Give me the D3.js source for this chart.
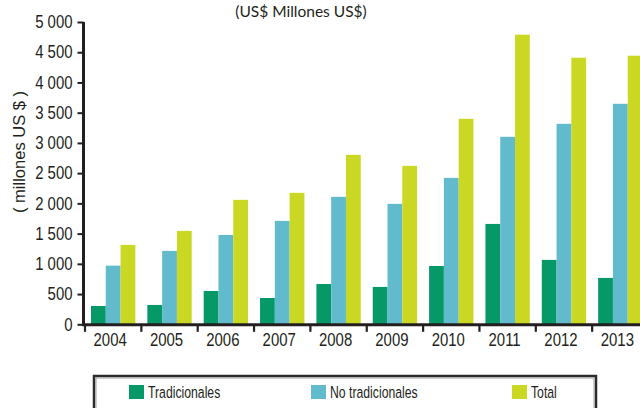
<!DOCTYPE html>
<html>
<head>
<meta charset="utf-8">
<script src="https://cdn.jsdelivr.net/npm/d3@7"></script>
<style>
  html, body { margin: 0; padding: 0; background: #fff; }
  svg { display: block; }
</style>
</head>
<body>
<svg id="chart" width="640" height="408"></svg>
<script>
const years = ["2004","2005","2006","2007","2008","2009","2010","2011","2012","2013"];
const tradicionales = [303, 320, 551, 435, 667, 618, 965, 1660, 1065, 767];
const noTradicionales = [970, 1214, 1478, 1710, 2108, 1992, 2422, 3101, 3316, 3647];
const total = [1313, 1545, 2058, 2174, 2803, 2621, 3399, 4790, 4409, 4442];
const seriesNames = ["Tradicionales", "No tradicionales", "Total"];
const seriesColors = ["#079868", "#62bbcc", "#cbd823"];
const yTicks = [0, 500, 1000, 1500, 2000, 2500, 3000, 3500, 4000, 4500, 5000];
const titleText = "(US$ Millones US$)";
const yTitle = "( millones US $ )";

const seriesValues = [tradicionales, noTradicionales, total];
const sans = "'Liberation Sans', Arial, sans-serif";
const ink = "#231f20";

const svg = d3.select("#chart");

const x = d3.scaleBand().domain(years).range([85, 648.5]).padding(0);
const xs = d3.scaleBand().domain(seriesNames).range([6, x.bandwidth() - 6]).padding(0);
const y = d3.scaleLinear().domain([0, 5000]).range([324.3, 22]);

// bars
const groups = svg.append("g").selectAll("g")
  .data(years)
  .join("g")
  .attr("transform", d => `translate(${x(d)},0)`);

groups.selectAll("rect")
  .data((d, i) => seriesNames.map((s, j) => ({ s, v: seriesValues[j][i], c: seriesColors[j] })))
  .join("rect")
  .attr("x", d => xs(d.s))
  .attr("width", xs.bandwidth())
  .attr("y", d => y(d.v))
  .attr("height", d => y(0) - y(d.v))
  .attr("fill", d => d.c);

// y axis
const yAxis = d3.axisLeft(y)
  .tickValues(yTicks)
  .tickSize(6)
  .tickPadding(5)
  .tickFormat(d => d3.format(",")(d).replace(/,/g, " "));
const yg = svg.append("g").attr("transform", "translate(83.5,0)").call(yAxis);
yg.select(".domain").attr("stroke", ink).attr("stroke-width", 3).attr("d", `M0,${y(5000)}V${y(0) + 1.5}`);
yg.selectAll(".tick line").attr("stroke", ink).attr("stroke-width", 2);
yg.selectAll(".tick text")
  .attr("fill", ink)
  .attr("x", 0)
  .attr("transform", "translate(-11,0) scale(0.83,1)")
  .style("font-family", sans)
  .style("font-size", "18px");

// x axis baseline
svg.append("line")
  .attr("x1", 82).attr("x2", 640)
  .attr("y1", y(0) + 0.5).attr("y2", y(0) + 0.5)
  .attr("stroke", ink).attr("stroke-width", 3);

// x ticks at band boundaries
svg.append("g").selectAll("line")
  .data(years)
  .join("line")
  .attr("x1", d => x(d)).attr("x2", d => x(d))
  .attr("y1", y(0) + 1).attr("y2", y(0) + 7.5)
  .attr("stroke", ink).attr("stroke-width", 2.2);

// x labels
svg.append("g").selectAll("text")
  .data(years)
  .join("text")
  .attr("transform", d => `translate(${x(d) + x.bandwidth() / 2 - 3},346) scale(0.83,1)`)
  .attr("text-anchor", "middle")
  .attr("fill", ink)
  .style("font-family", sans)
  .style("font-size", "18px")
  .text(d => d);

// y title
svg.append("text")
  .attr("transform", "translate(25,152) rotate(-90)")
  .attr("text-anchor", "middle")
  .attr("fill", ink)
  .style("font-family", sans)
  .style("font-size", "16.5px")
  .text(yTitle);

// title
svg.append("text")
  .attr("x", 301)
  .attr("y", 17)
  .attr("text-anchor", "middle")
  .attr("fill", ink)
  .style("font-family", "Lato, 'Open Sans', sans-serif")
  .style("font-size", "15.5px")
  .text(titleText);

// legend
const lg = svg.append("g");
lg.append("rect")
  .attr("x", 94).attr("y", 376).attr("width", 502).attr("height", 40)
  .attr("fill", "none").attr("stroke", "#2b2b2b").attr("stroke-width", 2.5);
lg.append("rect")
  .attr("x", 96).attr("y", 378).attr("width", 498).attr("height", 40)
  .attr("fill", "none").attr("stroke", "#a0a0a0").attr("stroke-width", 1);
const legendX = [129, 311, 512];
const items = lg.selectAll("g.item")
  .data(seriesNames)
  .join("g")
  .attr("class", "item")
  .attr("transform", (d, i) => `translate(${legendX[i]},385)`);
items.append("rect")
  .attr("width", 15).attr("height", 14)
  .attr("fill", (d, i) => seriesColors[i]);
items.append("text")
  .attr("transform", "translate(19,12.5) scale(0.72,1)")
  .attr("fill", ink)
  .style("font-family", sans)
  .style("font-size", "17px")
  .text(d => d);
</script>
</body>
</html>
